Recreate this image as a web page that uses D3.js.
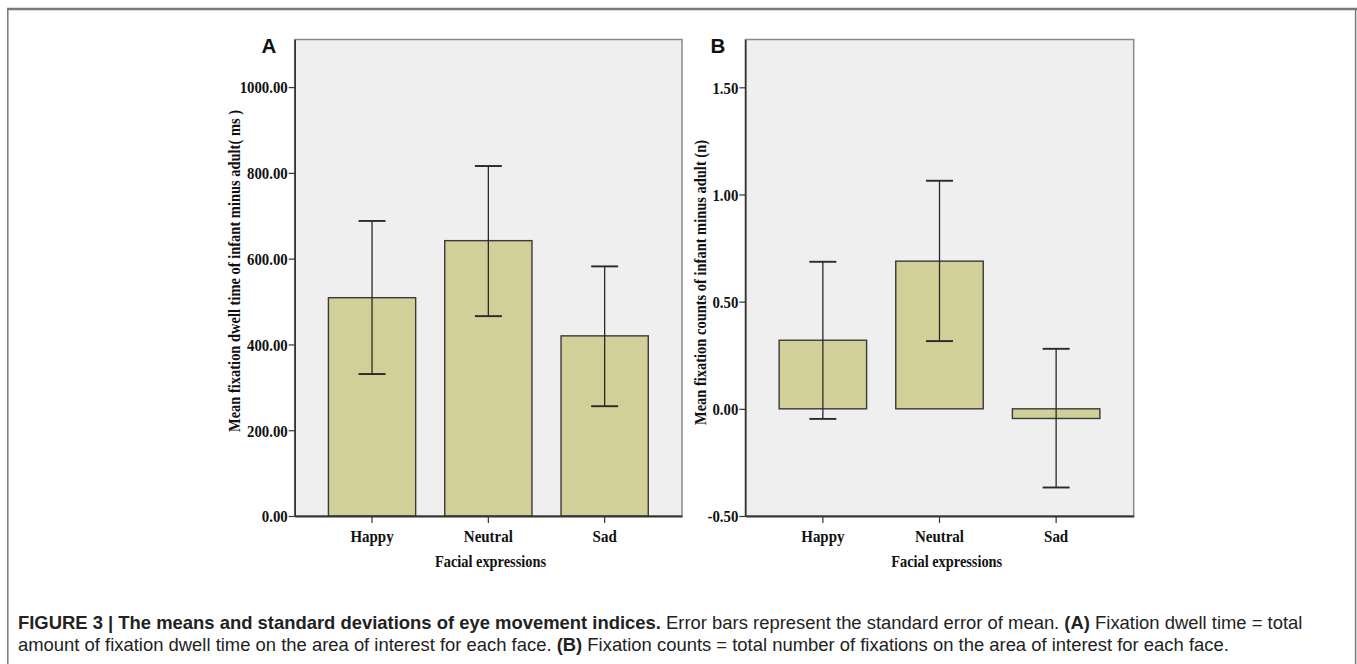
<!DOCTYPE html>
<html>
<head>
<meta charset="utf-8">
<script src="https://cdn.jsdelivr.net/npm/d3@7/dist/d3.min.js"></script>
<style>
  html, body { margin: 0; padding: 0; background: #fff; }
  svg { display: block; }
</style>
</head>
<body>
<svg id="chart" width="1357" height="664"></svg>
<script>
// ---------- DATA ----------
const categories = ["Happy", "Neutral", "Sad"];

const dwellMeans   = [509, 642, 420];
const dwellErrLow  = [331, 466, 256];
const dwellErrHigh = [688, 816, 582];
const dwellTicks   = [0, 200, 400, 600, 800, 1000];

const countMeans   = [0.320, 0.689, -0.045];
const countErrLow  = [-0.047, 0.316, -0.367];
const countErrHigh = [0.686, 1.064, 0.280];
const countTicks   = [-0.5, 0, 0.5, 1.0, 1.5];

const xTitle = "Facial expressions";
const dwellYTitle = "Mean fixation dwell time of infant minus adult( ms )";
const countYTitle = "Mean fixation counts of infant minus adult (n)";

// ---------- DRAW ----------
const svg = d3.select("#chart");
const serif = "'Liberation Serif', 'Times New Roman', serif";
const sans = "'Liberation Sans', Arial, Helvetica, sans-serif";

// outer frame
svg.append("line").attr("x1", 7).attr("x2", 1357).attr("y1", 9).attr("y2", 9)
  .attr("stroke", "#7a7a7a").attr("stroke-width", 2.6);
svg.append("line").attr("x1", 7.8).attr("x2", 7.8).attr("y1", 9).attr("y2", 664)
  .attr("stroke", "#7a7a7a").attr("stroke-width", 1.5);
svg.append("line").attr("x1", 1355.6).attr("x2", 1355.6).attr("y1", 9).attr("y2", 664)
  .attr("stroke", "#7a7a7a").attr("stroke-width", 1.5);

function fitText(sel, target) {
  sel.attr("textLength", target).attr("lengthAdjust", "spacingAndGlyphs");
}
// horizontally condense each text of a selection by a factor
function condense(sel, factor) {
  sel.each(function () {
    const len = this.getComputedTextLength();
    d3.select(this).attr("textLength", len * factor).attr("lengthAdjust", "spacingAndGlyphs");
  });
}
const fmt2 = d => d.toFixed(2);

function panel(opt) {
  const g = svg.append("g");
  const x = d3.scaleBand().domain(categories).range([opt.x0, opt.x1])
    .paddingInner(0.25).paddingOuter(0.29);
  const y = d3.scaleLinear().domain(opt.domain).range([opt.yBottom, opt.yTop]);

  // background + frame
  g.append("rect").attr("x", opt.x0).attr("y", opt.yTop)
    .attr("width", opt.x1 - opt.x0).attr("height", opt.yBottom - opt.yTop)
    .attr("fill", "#efefef").attr("stroke", "#8a8a8a").attr("stroke-width", 1.5);

  const zero = y(0);
  // bars
  g.selectAll("rect.bar").data(categories).enter().append("rect")
    .attr("class", "bar")
    .attr("x", d => x(d))
    .attr("width", x.bandwidth())
    .attr("y", (d, i) => y(Math.max(0, opt.means[i])))
    .attr("height", (d, i) => Math.abs(y(opt.means[i]) - zero))
    .attr("fill", "#d3cf98").attr("stroke", "#3a3a3a").attr("stroke-width", 1.4);

  // error bars
  const cap = 13.5;
  categories.forEach((c, i) => {
    const cx = x(c) + x.bandwidth() / 2;
    g.append("line").attr("x1", cx).attr("x2", cx)
      .attr("y1", y(opt.lo[i])).attr("y2", y(opt.hi[i]))
      .attr("stroke", "#2a2a2a").attr("stroke-width", 1.3);
    [opt.lo[i], opt.hi[i]].forEach(v => {
      g.append("line").attr("x1", cx - cap).attr("x2", cx + cap)
        .attr("y1", y(v)).attr("y2", y(v))
        .attr("stroke", "#2a2a2a").attr("stroke-width", 1.9);
    });
  });

  // y axis
  const yAxis = g.append("g").attr("transform", `translate(${opt.x0},0)`)
    .call(d3.axisLeft(y).tickValues(opt.ticks).tickFormat(fmt2)
      .tickSize(6).tickPadding(1).tickSizeOuter(0));
  yAxis.select(".domain").attr("stroke", "#333").attr("stroke-width", 1.6);
  yAxis.selectAll(".tick line").attr("stroke", "#333").attr("stroke-width", 1.2);
  const ytxt = yAxis.selectAll("text").attr("font-family", serif).attr("font-weight", "bold")
    .attr("font-size", 17).attr("fill", "#111").attr("dy", "0.34em");
  condense(ytxt, 0.87);

  // x axis
  const xAxis = g.append("g").attr("transform", `translate(0,${opt.yBottom})`)
    .call(d3.axisBottom(x).tickSize(7).tickPadding(7).tickSizeOuter(0));
  xAxis.select(".domain").attr("stroke", "#333").attr("stroke-width", 2);
  xAxis.selectAll(".tick line").attr("stroke", "#333").attr("stroke-width", 1.2);
  const xtxt = xAxis.selectAll("text").attr("font-family", serif).attr("font-weight", "bold")
    .attr("font-size", 17).attr("fill", "#111");
  condense(xtxt, 0.88);

  // x title
  const xt = g.append("text").attr("x", opt.xTitleX).attr("y", 566.5)
    .attr("text-anchor", "middle").attr("font-family", serif).attr("font-weight", "bold")
    .attr("font-size", 16.5).attr("fill", "#111").text(xTitle);
  fitText(xt, 111);

  // y title
  const yt = g.append("text")
    .attr("transform", `translate(${opt.yTitleX},${opt.yTitleY}) rotate(-90)`)
    .attr("text-anchor", "middle").attr("font-family", serif).attr("font-weight", "bold")
    .attr("font-size", 16.5).attr("fill", "#111").text(opt.yTitle);
  fitText(yt, opt.yTitleLen);

  // panel letter
  g.append("text").attr("x", opt.letterX).attr("y", 53)
    .attr("font-family", sans).attr("font-weight", "bold").attr("font-size", 20.5)
    .attr("fill", "#111").text(opt.letter);
}

panel({
  x0: 294.7, x1: 682, yTop: 39.5, yBottom: 516, domain: [0, 1111],
  means: dwellMeans, lo: dwellErrLow, hi: dwellErrHigh, ticks: dwellTicks,
  xTitleX: 490.5, yTitleX: 239.5, yTitleY: 271, yTitle: dwellYTitle, yTitleLen: 322,
  letter: "A", letterX: 261.5
});

panel({
  x0: 745.3, x1: 1133.7, yTop: 39.5, yBottom: 516, domain: [-0.5, 1.723],
  means: countMeans, lo: countErrLow, hi: countErrHigh, ticks: countTicks,
  xTitleX: 946.7, yTitleX: 705.5, yTitleY: 282.5, yTitle: countYTitle, yTitleLen: 285,
  letter: "B", letterX: 710.5
});

// ---------- CAPTION ----------
const capLines = [
  [["FIGURE 3 | The means and standard deviations of eye movement indices.", true],
   [" Error bars represent the standard error of mean. ", false],
   ["(A)", true],
   [" Fixation dwell time = total", false]],
  [["amount of fixation dwell time on the area of interest for each face. ", false],
   ["(B)", true],
   [" Fixation counts = total number of fixations on the area of interest for each face.", false]]
];
const capBase = [629, 651];
const capTexts = capLines.map((parts, li) => {
  const t = svg.append("text").attr("x", 18).attr("y", capBase[li])
    .attr("font-family", sans).attr("font-size", 16).attr("fill", "#222");
  parts.forEach(p => {
    t.append("tspan").attr("font-weight", p[1] ? "bold" : "normal")
      .attr("xml:space", "preserve").text(p[0]);
  });
  t.style("white-space", "pre");
  return t;
});
// scale font so that line 1 spans the same width as the original
const w1 = capTexts[0].node().getComputedTextLength();
const fs = 16 * 1285 / w1;
capTexts.forEach(t => t.attr("font-size", fs));
</script>
</body>
</html>
